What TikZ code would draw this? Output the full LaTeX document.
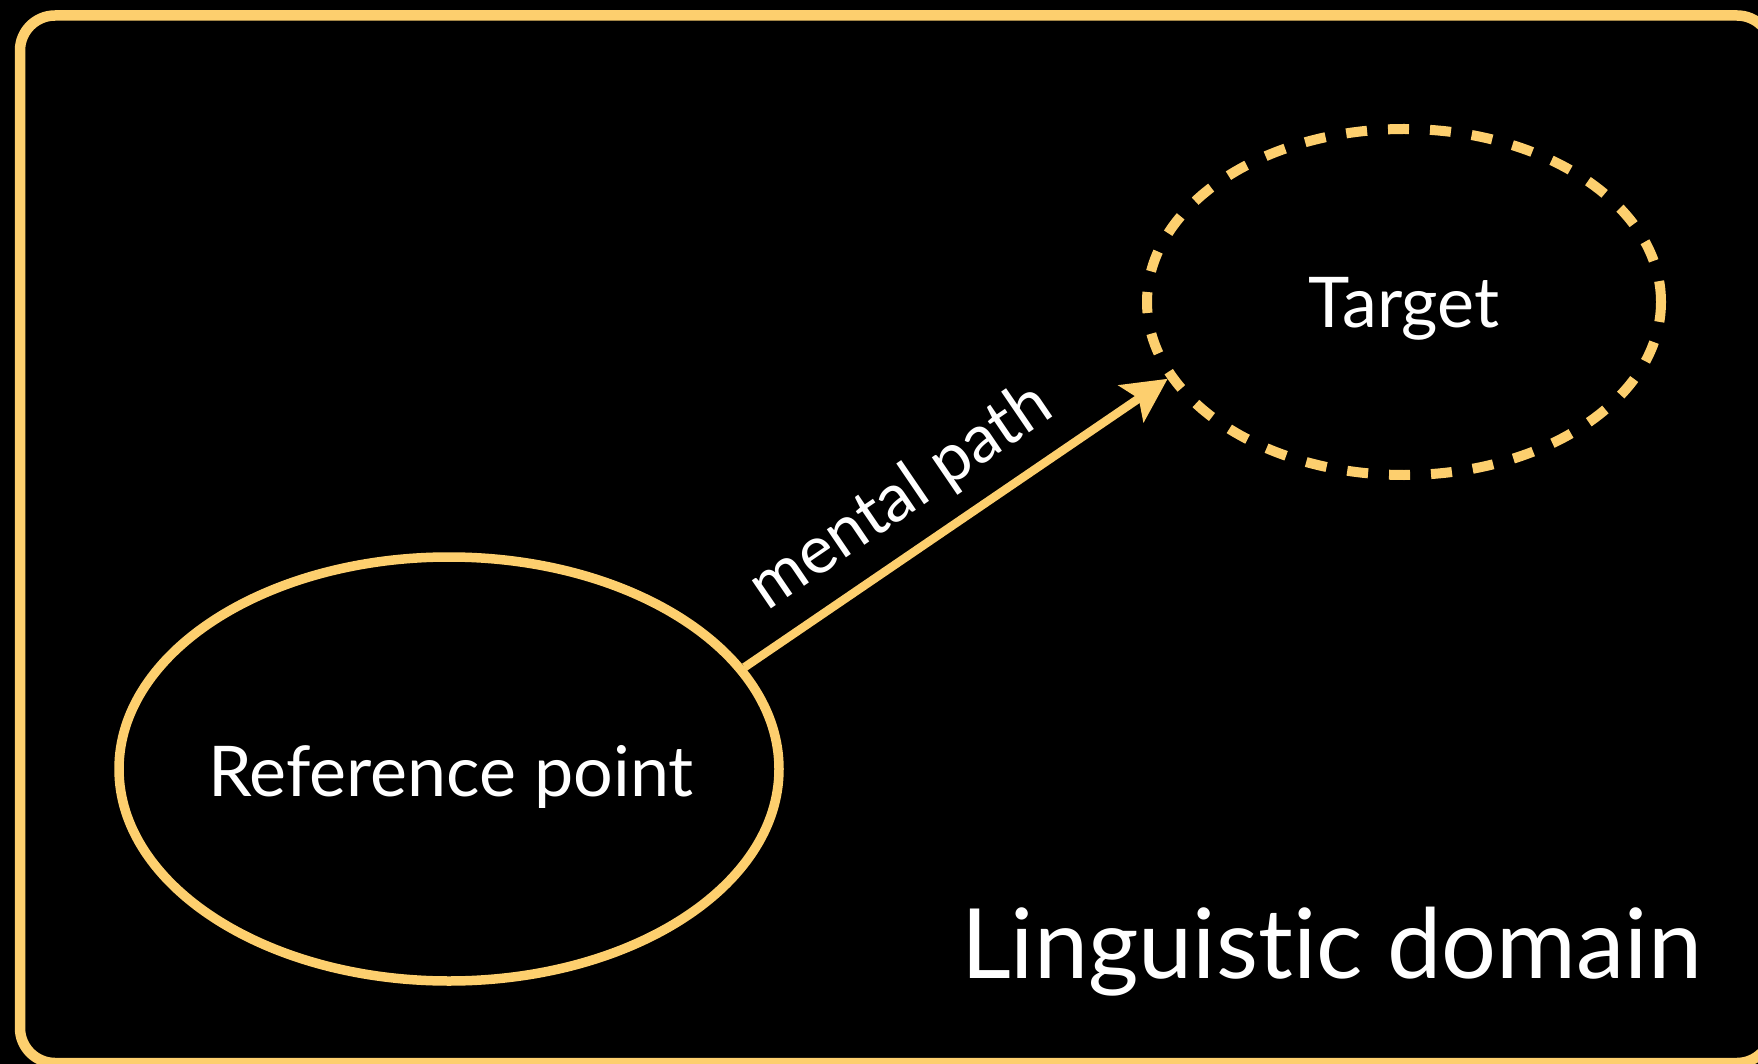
\documentclass[tikz,border=0pt]{standalone}
\usepackage{fontspec}
\setmainfont{Lato}[Ligatures={NoCommon,NoRequired,NoContextual}]
\usetikzlibrary{shapes.geometric,arrows.meta}
\definecolor{gold}{RGB}{253,207,110}
\tikzset{
  frame/.style={draw=gold, line width=10.5pt, rounded corners=35pt},
  refshape/.style={ellipse, draw=gold, line width=9.5pt, minimum width=660pt, minimum height=424pt, inner sep=0pt},
  tgtshape/.style={ellipse, draw=gold, line width=10pt, dash pattern=on 21pt off 21pt, minimum width=514pt, minimum height=346pt, inner sep=0pt},
  lbl/.style={text=white, inner sep=0pt, outer sep=0pt, anchor=base},
  arr/.style={draw=gold, line width=8.5pt, -{Stealth[length=44pt, width=44pt, inset=9pt]}},
}
\begin{document}
\begin{tikzpicture}[x=1pt, y=-1pt]
\fill[black] (0,0) rectangle (1758,1064);
\useasboundingbox (0,0) rectangle (1758,1064);
\begin{scope}
\clip (0,0) rectangle (1758,1064);
\draw[frame] (20,15.5) rectangle (1772,1063);
\end{scope}
\node[refshape] (ref) at (449,769) {};
\node[tgtshape] (tgt) at (1404,302) {};
\node[lbl] (reftxt) at (451,796) {\fontsize{70}{82}\selectfont Reference point};
\node[lbl] (tgttxt) at (1404,327) {\fontsize{70}{82}\selectfont Target};
\node[lbl, anchor=base east] (domain) at (1702,978) {\fontsize{97}{110}\selectfont Linguis\kern0pt tic domain};
\draw[arr] (ref.19.5) -- node[sloped, above=33pt, pos=0.44, text=white, inner sep=0pt, outer sep=0pt, text depth=0pt] (path) {\fontsize{67}{78}\selectfont mental path} (tgt.198.4);
\end{tikzpicture}
\end{document}
